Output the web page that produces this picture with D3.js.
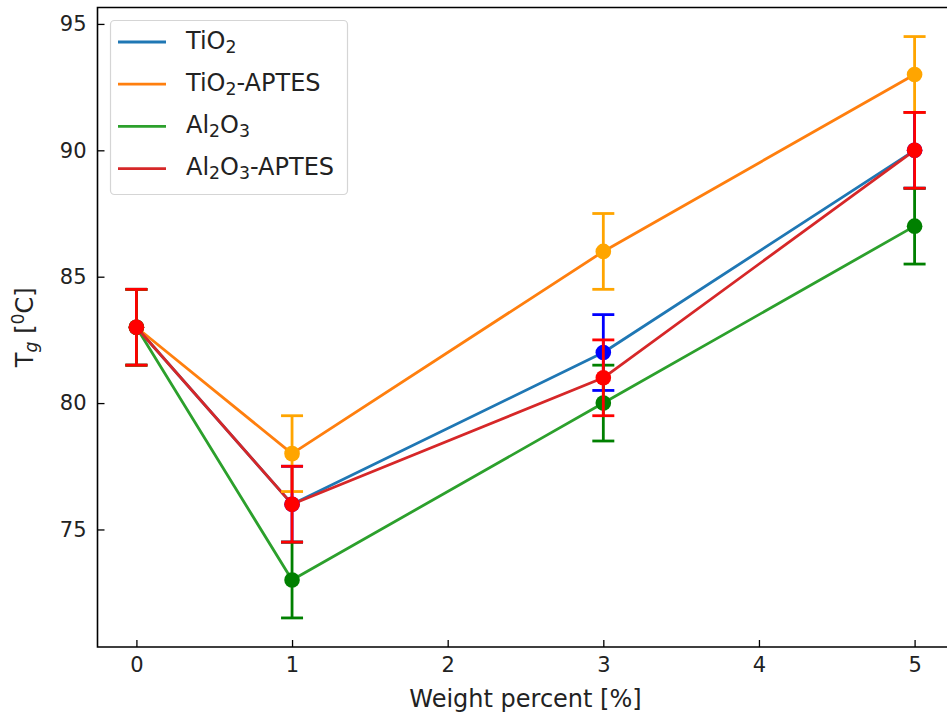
<!DOCTYPE html>
<html>
<head>
<meta charset="utf-8">
<script src="https://cdn.jsdelivr.net/npm/d3@7"></script>
<style>
  html, body { margin: 0; padding: 0; background: #fff; }
  svg { display: block; font-family: "DejaVu Sans", sans-serif; }
</style>
</head>
<body>
<svg id="chart" width="947" height="720"></svg>
<script>
// Weight percent of filler
const weightPercent = [0, 1, 3, 5];

// Glass transition temperature (°C) per composite
const tgTiO2 = [83, 76, 82, 90];
const tgTiO2Aptes = [83, 78, 86, 93];
const tgAl2O3 = [83, 73, 80, 87];
const tgAl2O3Aptes = [83, 76, 81, 90];

// Standard deviation for every point
const tgError = [1.5, 1.5, 1.5, 1.5];

const xTicks = [0, 1, 2, 3, 4, 5];
const yTicks = [75, 80, 85, 90, 95];

// label parts: [text, "sub" | null]
const series = [
  { name: [["TiO", null], ["2", "sub"]], values: tgTiO2, line: "#1f77b4", mark: "#0000ff" },
  { name: [["TiO", null], ["2", "sub"], ["-APTES", null]], values: tgTiO2Aptes, line: "#ff7f0e", mark: "#ffa500" },
  { name: [["Al", null], ["2", "sub"], ["O", null], ["3", "sub"]], values: tgAl2O3, line: "#2ca02c", mark: "#008000" },
  { name: [["Al", null], ["2", "sub"], ["O", null], ["3", "sub"], ["-APTES", null]], values: tgAl2O3Aptes, line: "#d62728", mark: "#ff0000" }
];

const svg = d3.select("#chart");
const plotLeft = 97.5, plotRight = 953.5, plotTop = 7.5, plotBottom = 647;

const x = d3.scaleLinear().domain([-0.25, 5.25]).range([plotLeft, plotRight]);
const y = d3.scaleLinear().domain([70.35, 95.65]).range([plotBottom, plotTop]);

const tickFont = 21;
const labelFont = 24;

// Axes with inward ticks
const xAxis = svg.append("g").attr("transform", `translate(0,${plotBottom})`)
  .call(d3.axisBottom(x).tickValues(xTicks).tickFormat(d3.format("d")).tickSizeInner(-7).tickSizeOuter(0).tickPadding(10));
const yAxis = svg.append("g").attr("transform", `translate(${plotLeft},0)`)
  .call(d3.axisLeft(y).tickValues(yTicks).tickFormat(d3.format("d")).tickSizeInner(-7).tickSizeOuter(0).tickPadding(11));

[xAxis, yAxis].forEach(g => {
  g.select(".domain").remove();
  g.selectAll(".tick line").attr("stroke", "#000").attr("stroke-width", 1.3);
  g.selectAll(".tick text").attr("fill", "#222").style("font-size", tickFont + "px").style("font-family", "DejaVu Sans");
});
xAxis.selectAll(".tick text").attr("dy", "0.72em");

// Spines
svg.append("path")
  .attr("d", `M${plotLeft},${plotTop}H${plotRight}V${plotBottom}H${plotLeft}Z`)
  .attr("fill", "none").attr("stroke", "#000").attr("stroke-width", 1.6);

const line = d3.line().x((d, i) => x(weightPercent[i])).y(d => y(d));

// Connecting lines
series.forEach(s => {
  svg.append("path").datum(s.values)
    .attr("d", line)
    .attr("fill", "none").attr("stroke", s.line).attr("stroke-width", 2.8)
    .attr("stroke-linejoin", "round");
});

// Error bars and markers
const cap = 11;
series.forEach(s => {
  const g = svg.append("g").attr("stroke", s.mark).attr("stroke-width", 2.8);
  s.values.forEach((v, i) => {
    const cx = x(weightPercent[i]);
    const y1 = y(v + tgError[i]), y0 = y(v - tgError[i]);
    g.append("line").attr("x1", cx).attr("x2", cx).attr("y1", y1).attr("y2", y0);
    g.append("line").attr("x1", cx - cap).attr("x2", cx + cap).attr("y1", y1).attr("y2", y1);
    g.append("line").attr("x1", cx - cap).attr("x2", cx + cap).attr("y1", y0).attr("y2", y0);
  });
  svg.append("g").selectAll("circle").data(s.values).join("circle")
    .attr("cx", (d, i) => x(weightPercent[i]))
    .attr("cy", d => y(d))
    .attr("r", 7.8)
    .attr("fill", s.mark);
});

// Text with sub/superscripts, each part shifted relative to the baseline
function richText(sel, parts, size) {
  let offset = 0;
  parts.forEach(([t, kind]) => {
    const ts = sel.append("tspan").text(t);
    let want = 0;
    if (kind === "sub" || kind === "subi") {
      want = size * 0.18;
      ts.style("font-size", (size * 0.72) + "px");
      if (kind === "subi") ts.style("font-style", "italic");
    } else if (kind === "sup") {
      want = -size * 0.38;
      ts.style("font-size", (size * 0.72) + "px");
    }
    ts.attr("dy", want - offset);
    offset = want;
  });
}

// Legend
const lg = svg.append("g");
lg.append("rect").attr("x", 110.5).attr("y", 20.5).attr("width", 237).attr("height", 174)
  .attr("rx", 4).attr("fill", "#fff").attr("fill-opacity", 0.8).attr("stroke", "#d5d5d5").attr("stroke-width", 1.2);
series.forEach((s, i) => {
  const ly = 42 + i * 42.2;
  lg.append("line").attr("x1", 118).attr("x2", 166).attr("y1", ly).attr("y2", ly)
    .attr("stroke", s.line).attr("stroke-width", 2.8);
  const t = lg.append("text").attr("x", 186).attr("y", ly + 6.5)
    .style("font-size", labelFont + "px").attr("fill", "#222");
  richText(t, s.name, labelFont);
});

// Axis titles
svg.append("text").attr("x", (plotLeft + plotRight) / 2).attr("y", 707)
  .attr("text-anchor", "middle").style("font-size", labelFont + "px").attr("fill", "#222")
  .text("Weight percent [%]");

const yl = svg.append("text")
  .attr("transform", `translate(33,${(plotTop + plotBottom) / 2}) rotate(-90)`)
  .attr("text-anchor", "middle").style("font-size", labelFont + "px").attr("fill", "#222");
richText(yl, [["T", null], ["g", "subi"], [" [", null], ["0", "sup"], ["C]", null]], labelFont);
</script>
</body>
</html>
